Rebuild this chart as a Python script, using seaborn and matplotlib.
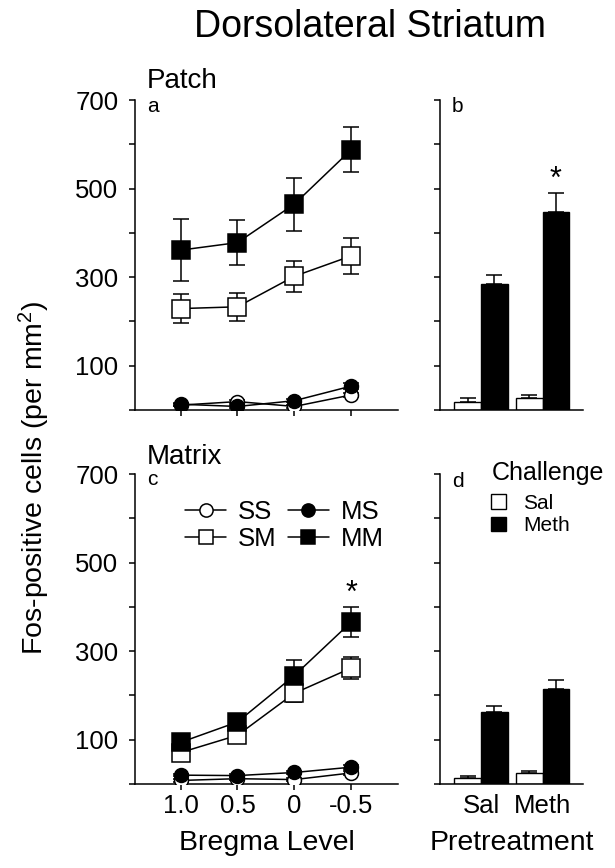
import numpy as np
import pandas as pd
import matplotlib
matplotlib.use('Agg')
import matplotlib.pyplot as plt
from matplotlib.lines import Line2D
from matplotlib.patches import Patch
import seaborn as sns

# Bregma levels (x categories of panels a and c)
levels = ['1.0', '0.5', '0', '-0.5']

# Patch (panel a): group means and SEM
patch_ss = [11, 19, 8, 34]
patch_ss_err = [3, 3, 3, 4]
patch_sm = [229, 233, 302, 348]
patch_sm_err = [33, 32, 35, 41]
patch_ms = [13, 8, 21, 54]
patch_ms_err = [3, 3, 4, 6]
patch_mm = [361, 378, 465, 588]
patch_mm_err = [70, 51, 60, 50]

# Matrix (panel c)
matrix_ss = [8, 12, 10, 25]
matrix_ss_err = [3, 3, 3, 4]
matrix_sm = [71, 110, 205, 262]
matrix_sm_err = [10, 10, 20, 25]
matrix_ms = [20, 19, 26, 38]
matrix_ms_err = [3, 3, 4, 5]
matrix_mm = [94, 140, 245, 366]
matrix_mm_err = [12, 12, 35, 33]

# Collapsed over levels (panels b and d)
pretreatments = ['Sal', 'Meth']
challenges = ['Sal', 'Meth']
patch_bar_sal = [19, 26]
patch_bar_sal_err = [7, 7]
patch_bar_meth = [285, 446]
patch_bar_meth_err = [20, 45]
matrix_bar_sal = [13, 24]
matrix_bar_sal_err = [6, 5]
matrix_bar_meth = [162, 214]
matrix_bar_meth_err = [15, 21]

sns.set_style('ticks')
plt.rcParams['font.family'] = ['Liberation Sans', 'DejaVu Sans']
plt.rcParams['mathtext.fontset'] = 'custom'
plt.rcParams['mathtext.rm'] = 'Liberation Sans'
plt.rcParams['mathtext.it'] = 'Liberation Sans:italic'
plt.rcParams['mathtext.default'] = 'rm'
for key in ['text.color', 'axes.labelcolor', 'xtick.color', 'ytick.color', 'axes.edgecolor']:
    plt.rcParams[key] = 'black'

W, H = 615, 868
fig = plt.figure(figsize=(W / 100, H / 100), dpi=100)


def px_axes(left, top, right, bottom):
    return fig.add_axes([left / W, 1 - bottom / H, (right - left) / W, (bottom - top) / H])


ax_a = px_axes(135, 100, 398, 410)
ax_b = px_axes(440, 100, 583, 410)
ax_c = px_axes(135, 474, 398, 784)
ax_d = px_axes(440, 474, 583, 784)

groups = [
    ('SS', 'o', 'white', 10),
    ('SM', 's', 'white', 13),
    ('MS', 'o', 'black', 10),
    ('MM', 's', 'black', 13),
]


def line_panel(ax, series, errs):
    x = np.arange(len(levels))
    for (name, marker, face, ms), vals, err in zip(groups, series, errs):
        ax.errorbar(x, vals, yerr=err, fmt='none', ecolor='black',
                    elinewidth=1.1, capsize=6, capthick=1.1, zorder=2)
        df = pd.DataFrame({'x': x, 'y': vals})
        sns.lineplot(data=df, x='x', y='y', ax=ax, color='black', linewidth=1.1,
                     marker=marker, markersize=ms, markerfacecolor=face,
                     markeredgecolor='black', markeredgewidth=1.1,
                     errorbar=None, zorder=3)
    ax.set_xlim(-0.8, 3.82)
    ax.set_xticks(x)
    ax.set_xticklabels(levels)


def bar_panel(ax, sal, sal_err, meth, meth_err):
    df = pd.DataFrame({
        'Pretreatment': pretreatments * 2,
        'Challenge': ['Sal'] * 2 + ['Meth'] * 2,
        'Count': sal + meth,
    })
    sns.barplot(data=df, x='Pretreatment', y='Count', hue='Challenge',
                order=pretreatments, hue_order=challenges,
                palette={'Sal': 'white', 'Meth': 'black'}, edgecolor='black',
                linewidth=1, width=0.86, gap=0, errorbar=None, legend=False,
                ax=ax, zorder=2)
    tops = []
    for cont, err in zip(ax.containers, [sal_err, meth_err]):
        xs = [p.get_x() + p.get_width() / 2 for p in cont]
        ys = [p.get_height() for p in cont]
        ax.errorbar(xs, ys, yerr=[np.zeros(len(err)), err], fmt='none',
                    ecolor='black', elinewidth=1.1, capsize=6, capthick=1.1, zorder=1)
        tops.append(list(zip(xs, np.array(ys) + np.array(err))))
    ax.set_xlim(-0.665, 1.653)
    return tops


line_panel(ax_a, [patch_ss, patch_sm, patch_ms, patch_mm],
           [patch_ss_err, patch_sm_err, patch_ms_err, patch_mm_err])
line_panel(ax_c, [matrix_ss, matrix_sm, matrix_ms, matrix_mm],
           [matrix_ss_err, matrix_sm_err, matrix_ms_err, matrix_mm_err])
tops_b = bar_panel(ax_b, patch_bar_sal, patch_bar_sal_err, patch_bar_meth, patch_bar_meth_err)
tops_d = bar_panel(ax_d, matrix_bar_sal, matrix_bar_sal_err, matrix_bar_meth, matrix_bar_meth_err)

for ax in [ax_a, ax_b, ax_c, ax_d]:
    sns.despine(ax=ax)
    for s in ['left', 'bottom']:
        ax.spines[s].set_linewidth(1.1)
    ax.set_ylim(0, 700)
    ax.set_yticks(np.arange(0, 701, 100))
    ax.tick_params(axis='y', length=4, width=1.1, labelsize=18.5, pad=8)
    ax.tick_params(axis='x', length=4, width=1.1, labelsize=18.5, pad=3)
    ax.set_xlabel('')
    ax.set_ylabel('')

for ax in [ax_a, ax_c]:
    ax.set_yticklabels(['' if v % 200 == 0 else str(v) for v in range(0, 701, 100)])
for ax in [ax_b, ax_d]:
    ax.set_yticklabels([])
    ax.tick_params(axis='x', length=0, pad=7)
ax_a.set_xticklabels([])
ax_b.set_xticklabels([])

ax_c.set_xlabel('Bregma Level', fontsize=20.5, labelpad=9)
ax_d.set_xlabel('Pretreatment', fontsize=20.5, labelpad=9)

# panel letters and region names
ax_a.text(0.0445, 0.962, 'a', transform=ax_a.transAxes, fontsize=15, va='baseline')
ax_a.text(0.0445, 1.038, 'Patch', transform=ax_a.transAxes, fontsize=20, va='baseline')
ax_b.text(0.082, 0.961, 'b', transform=ax_b.transAxes, fontsize=15, va='baseline')
ax_c.text(0.0445, 0.965, 'c', transform=ax_c.transAxes, fontsize=15, va='baseline')
ax_c.text(0.0445, 1.032, 'Matrix', transform=ax_c.transAxes, fontsize=20, va='baseline')
ax_d.text(0.082, 0.959, 'd', transform=ax_d.transAxes, fontsize=15, va='baseline')

# significance marks
ax_c.annotate('*', xy=(3, matrix_mm[3] + matrix_mm_err[3]), xytext=(0, -1),
              textcoords='offset points', ha='center', va='bottom', fontsize=22)
xb, yb = tops_b[1][1]
ax_b.annotate('*', xy=(xb, yb), xytext=(0, -2), textcoords='offset points',
              ha='center', va='bottom', fontsize=22)

# legends
handles = [Line2D([], [], color='black', linewidth=1.1, marker=m, markersize=9.5,
                  markerfacecolor=f, markeredgecolor='black', markeredgewidth=1.1)
           for _, m, f, _ in groups]
ax_c.legend(handles, [g[0] for g in groups], ncol=2, loc='upper left',
            bbox_to_anchor=(0.19, 0.915), frameon=False, fontsize=18.5,
            handlelength=1.6, handletextpad=0.45, columnspacing=0.45,
            labelspacing=0.12, borderpad=0, borderaxespad=0)

ax_d.text(0.36, 0.981, 'Challenge', transform=ax_d.transAxes, fontsize=18,
          va='baseline', ha='left')
bar_handles = [Patch(facecolor='white', edgecolor='black', linewidth=1),
               Patch(facecolor='black', edgecolor='black', linewidth=1)]
ax_d.legend(bar_handles, challenges, loc='upper left',
            bbox_to_anchor=(0.36, 0.935), frameon=False, fontsize=15,
            handlelength=0.72, handleheight=0.72, handletextpad=0.8,
            labelspacing=0.15, borderpad=0, borderaxespad=0)

fig.text(370 / W, 1 - 37.3 / H, 'Dorsolateral Striatum', fontsize=27,
         ha='center', va='baseline')
fig.text(34 / W, 1 - 478 / H, r'Fos-positive cells (per mm$^{2}$)', fontsize=20.5,
         rotation=90, ha='center', va='center')

fig.savefig('out.png', dpi=100)
